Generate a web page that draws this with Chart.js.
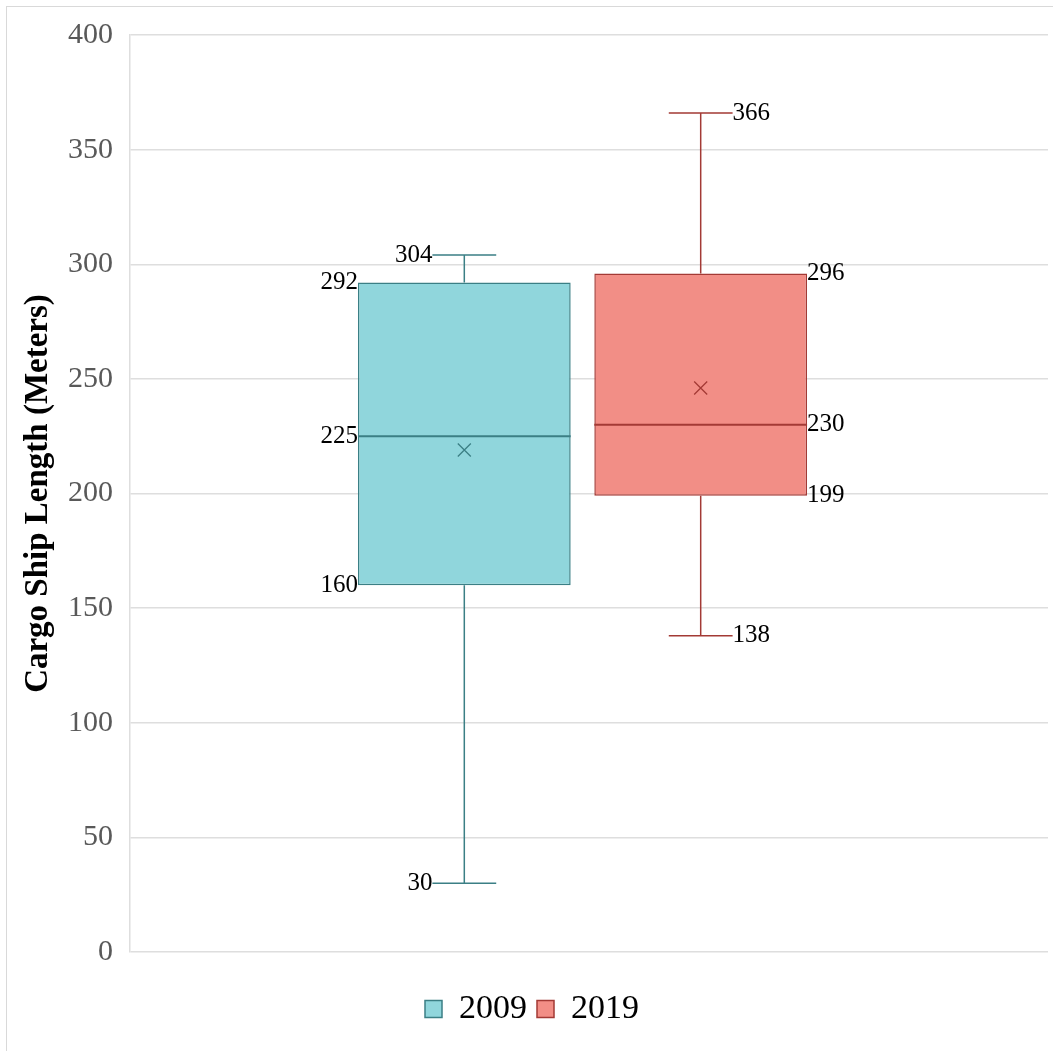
<!DOCTYPE html>
<html>
<head>
<meta charset="utf-8">
<script src="https://cdn.jsdelivr.net/npm/chart.js@4/dist/chart.umd.min.js"></script>
<style>
    html, body { margin: 0; padding: 0; background: #fff; }
    #wrap { position: relative; width: 1053px; height: 1051px; }
    #frame { position: absolute; left: 6px; top: 6px; right: 0; bottom: 0;
             border-left: 1px solid #d9d9d9; border-top: 1px solid #d9d9d9; pointer-events: none; }
</style>
</head>
<body>
<div id="wrap">
    <canvas id="boxChart" width="1053" height="1051"></canvas>
    <div id="frame"></div>
</div>
<script>
// Data
const years = ['2009', '2019'];
const minVals = [30, 138];
const q1Vals = [160, 199];
const medianVals = [225, 230];
const q3Vals = [292, 296];
const maxVals = [304, 366];
const meanVals = [219, 246];
const yMin = 0, yMax = 400, yStep = 50;

// Styles
const fillColors = ['#90d6dc', '#f28e86'];
const lineColors = ['#3b7f85', '#a33a35'];
const serif = "'Liberation Serif', 'Times New Roman', serif";

// the boxes in the original sit a little left of the plot centre, legend a little right
const nudge = {
    id: 'nudge',
    afterLayout(chart) {
        const x = chart.scales.x;
        x._startPixel -= 6.5;
        x._endPixel -= 6.5;
        chart.legend.left += 5;
        chart.legend.right += 5;
    }
};

// whiskers, median, mean and value labels drawn on top of the floating bars
const boxPlotParts = {
    id: 'boxPlotParts',
    afterDatasetsDraw(chart) {
        const ctx = chart.ctx;
        const y = chart.scales.y;
        years.forEach((yr, i) => {
            const bar = chart.getDatasetMeta(i).data[0];
            if (!bar) return;
            const cx = bar.x;
            const half = bar.width / 2;
            const cap = bar.width * 0.15;
            const pMin = y.getPixelForValue(minVals[i]);
            const pQ1 = y.getPixelForValue(q1Vals[i]);
            const pMed = y.getPixelForValue(medianVals[i]);
            const pQ3 = y.getPixelForValue(q3Vals[i]);
            const pMax = y.getPixelForValue(maxVals[i]);
            const pMean = y.getPixelForValue(meanVals[i]);

            ctx.save();
            ctx.strokeStyle = lineColors[i];
            ctx.lineWidth = 1.5;
            ctx.beginPath();
            // whiskers
            ctx.moveTo(cx, pQ3); ctx.lineTo(cx, pMax);
            ctx.moveTo(cx - cap, pMax); ctx.lineTo(cx + cap, pMax);
            ctx.moveTo(cx, pQ1); ctx.lineTo(cx, pMin);
            ctx.moveTo(cx - cap, pMin); ctx.lineTo(cx + cap, pMin);
            ctx.stroke();
            // median
            ctx.lineWidth = 2;
            ctx.beginPath();
            ctx.moveTo(cx - half, pMed); ctx.lineTo(cx + half, pMed);
            ctx.stroke();
            // mean marker
            ctx.lineWidth = 1.3;
            const m = 6.5;
            ctx.beginPath();
            ctx.moveTo(cx - m, pMean - m); ctx.lineTo(cx + m, pMean + m);
            ctx.moveTo(cx + m, pMean - m); ctx.lineTo(cx - m, pMean + m);
            ctx.stroke();

            // value labels
            ctx.fillStyle = '#000';
            ctx.font = '25px ' + serif;
            ctx.textBaseline = 'middle';
            const left = i === 0;
            ctx.textAlign = left ? 'right' : 'left';
            const edgeBox = left ? cx - half : cx + half;
            const edgeCap = left ? cx - cap : cx + cap;
            ctx.fillText(String(maxVals[i]), edgeCap, pMax);
            ctx.fillText(String(q3Vals[i]), edgeBox, pQ3);
            ctx.fillText(String(medianVals[i]), edgeBox, pMed);
            ctx.fillText(String(q1Vals[i]), edgeBox, pQ1);
            ctx.fillText(String(minVals[i]), edgeCap, pMin);
            ctx.restore();
        });
    }
};

const ctx = document.getElementById('boxChart').getContext('2d');
const boxChart = new Chart(ctx, {
    type: 'bar',
    data: {
        labels: [''],
        datasets: years.map((yr, i) => ({
            label: yr,
            data: [[q1Vals[i], q3Vals[i]]],
            backgroundColor: fillColors[i],
            borderColor: lineColors[i],
            borderWidth: 1.5,
            borderSkipped: false,
            categoryPercentage: 0.515,
            barPercentage: 0.9
        }))
    },
    options: {
        responsive: false,
        animation: false,
        layout: { padding: { left: 6, top: 34, right: 5, bottom: 15 } },
        plugins: {
            tooltip: { enabled: false },
            legend: {
                position: 'bottom',
                labels: {
                    color: '#000',
                    font: { family: serif, size: 34 },
                    boxWidth: 17,
                    boxHeight: 17,
                    padding: 10
                }
            }
        },
        scales: {
            x: {
                ticks: { display: false },
                grid: { display: false },
                border: { display: false },
                afterFit: (scale) => { scale.height = 30; }
            },
            y: {
                min: yMin,
                max: yMax,
                ticks: {
                    stepSize: yStep,
                    color: '#595959',
                    padding: 17,
                    font: { family: serif, size: 30 }
                },
                grid: { color: '#dedede', lineWidth: 1.5, drawTicks: false },
                border: { color: '#dedede', width: 1.5 },
                title: {
                    display: true,
                    text: 'Cargo Ship Length (Meters)',
                    color: '#000',
                    font: { family: serif, size: 33, weight: 'bold' },
                    padding: { top: 13, bottom: 0 }
                },
                afterFit: (scale) => { scale.width = 124; }
            }
        }
    },
    plugins: [nudge, boxPlotParts]
});
</script>
</body>
</html>
